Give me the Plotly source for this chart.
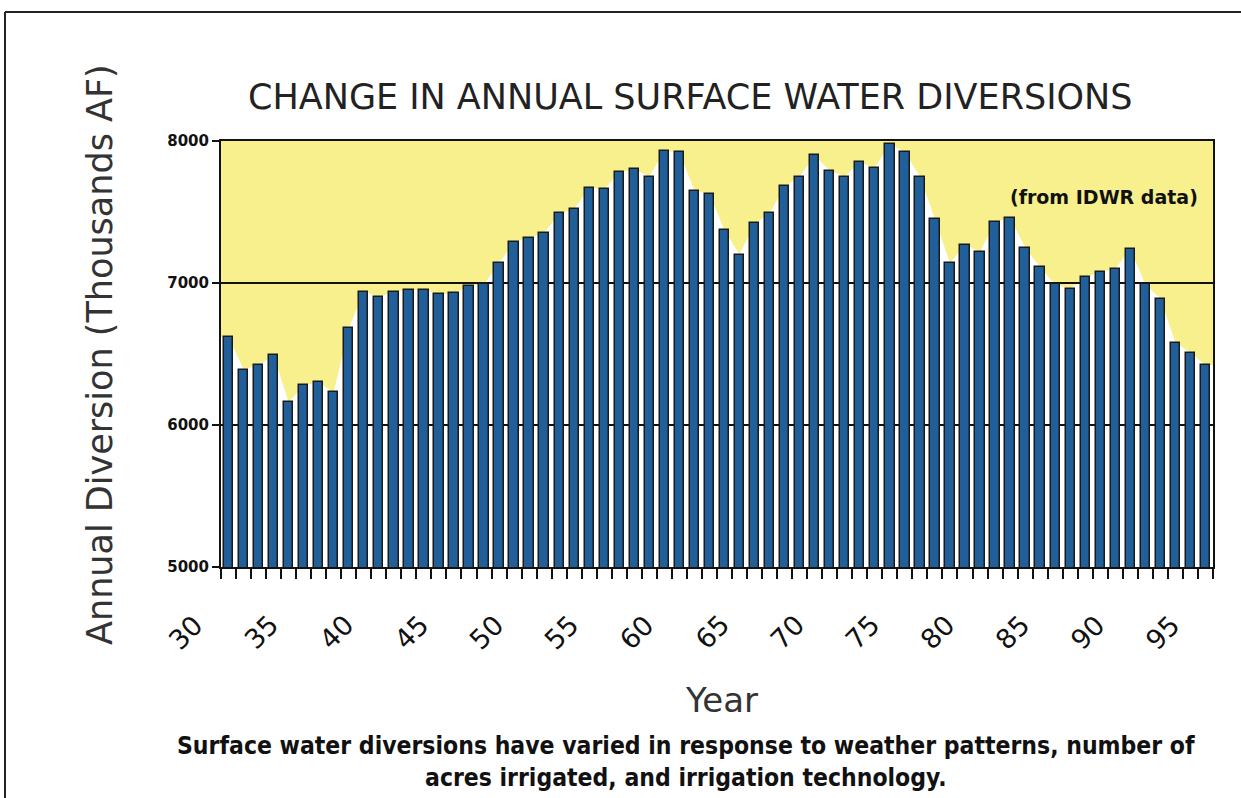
import plotly.graph_objects as go

years = list(range(31, 97))
diversion = [6620, 6390, 6420, 6490, 6160, 6280, 6300, 6230, 6680, 6940,
             6900, 6940, 6950, 6950, 6920, 6930, 6980, 6990, 7140, 7290,
             7320, 7350, 7490, 7520, 7670, 7660, 7780, 7800, 7750, 7930,
             7920, 7650, 7630, 7370, 7200, 7420, 7490, 7680, 7750, 7900,
             7790, 7750, 7850, 7810, 7980, 7920, 7750, 7450, 7140, 7270,
             7220, 7430, 7460, 7250, 7110, 6990, 6960, 7040, 7080, 7100,
             7240, 6990, 6890, 6580, 6510, 6420]
year_labels = list(range(30, 100, 5))
y_ticks = [5000, 6000, 7000, 8000]

title = "CHANGE IN ANNUAL SURFACE WATER DIVERSIONS"
y_title = "Annual Diversion (Thousands AF)"
x_title = "Year"
note = "(from IDWR data)"
caption = ("Surface water diversions have varied in response to weather patterns, number of"
           "<br>acres irrigated, and irrigation technology.")

x_lo, x_hi = years[0] - 0.5, years[-1] + 0.5
y_lo, y_hi = y_ticks[0], y_ticks[-1]

# yellow envelope above bar tops
env_x = [x_lo] + years + [x_hi]
env_y = [diversion[0]] + diversion + [diversion[-1]]
path = f"M {x_lo},{y_hi} " + " ".join(f"L {x},{y}" for x, y in zip(env_x, env_y)) + f" L {x_hi},{y_hi} Z"

fig = go.Figure()
fig.add_trace(go.Bar(
    x=years, y=diversion, width=0.62,
    marker=dict(color="#215f9a", line=dict(color="#1a1a1a", width=1.5)),
    hoverinfo="x+y",
))

ml, mr, mt, mb = 221, 28, 141, 231
W, H = 1241, 798
pw, ph = W - ml - mr, H - mt - mb

def px(p):
    return (p - ml) / pw

def py(q):
    return (H - mb - q) / ph

def xpaper(v):
    return (v - x_lo) / (x_hi - x_lo)

shapes = [
    dict(type="path", path=path, xref="x", yref="y", layer="below",
         fillcolor="#f7f08c", line=dict(width=0)),
    dict(type="line", xref="paper", yref="paper", x0=px(5), x1=px(5), y0=py(12), y1=py(820),
         line=dict(color="#222", width=2)),
    dict(type="line", xref="paper", yref="paper", x0=px(5), x1=px(1260), y0=py(12), y1=py(12),
         line=dict(color="#222", width=2)),
]

annotations = []
for yl in year_labels:
    annotations.append(dict(
        x=xpaper(yl), xref="paper", y=0, yref="paper", text=str(yl), showarrow=False,
        textangle=-45, xanchor="center", yanchor="middle", xshift=-28, yshift=-65,
        font=dict(family="DejaVu Sans", size=27, color="#111"),
    ))
annotations.append(dict(
    x=px(690), xref="paper", y=py(97), yref="paper", text=title, showarrow=False,
    xanchor="center", yanchor="middle",
    font=dict(family="DejaVu Sans", size=35, color="#222"),
))
annotations.append(dict(
    x=px(1200), xref="paper", y=py(197), yref="paper", text=note, showarrow=False,
    xanchor="right", yanchor="middle",
    font=dict(family="DejaVu Sans", size=19, color="#111", weight="bold"),
))
annotations.append(dict(
    x=px(686), xref="paper", y=py(761), yref="paper", text=caption, showarrow=False,
    xanchor="center", yanchor="middle",
    font=dict(family="Liberation Sans Narrow, Arial Narrow, DejaVu Sans Condensed, sans-serif",
              size=24.5, color="#111", weight="bold"),
))
annotations.append(dict(
    x=px(721), xref="paper", y=py(700), yref="paper", text=x_title, showarrow=False,
    xanchor="center", yanchor="middle",
    font=dict(family="DejaVu Sans", size=34, color="#333"),
))
annotations.append(dict(
    x=px(100), xref="paper", y=py(355), yref="paper", text=y_title, showarrow=False,
    textangle=-90, xanchor="center", yanchor="middle",
    font=dict(family="DejaVu Sans", size=35, color="#333"),
))

fig.update_layout(
    width=W, height=H,
    margin=dict(l=ml, r=mr, t=mt, b=mb),
    paper_bgcolor="white", plot_bgcolor="white",
    showlegend=False, bargap=0,
    shapes=shapes, annotations=annotations,
    xaxis=dict(
        range=[x_lo, x_hi], showgrid=False, zeroline=False,
        tickmode="array", tickvals=[y - 0.5 for y in years] + [x_hi],
        showticklabels=False, ticks="outside", ticklen=10, tickwidth=1.5, tickcolor="#111",
        showline=True, linecolor="#111", linewidth=2, mirror=True,
    ),
    yaxis=dict(
        range=[y_lo, y_hi], tickmode="array", tickvals=y_ticks,
        ticktext=[str(v) for v in y_ticks],
        ticks="outside", ticklen=7, tickwidth=1.5, tickcolor="#111",
        tickfont=dict(family="DejaVu Sans", size=15, color="#111", weight="bold"),
        showgrid=True, gridcolor="#111", gridwidth=2, zeroline=False,
        showline=True, linecolor="#111", linewidth=2, mirror=True,
    ),
)

fig.write_html("out.html", config={"displayModeBar": False},
               post_script="document.body.style.margin='0px';")
